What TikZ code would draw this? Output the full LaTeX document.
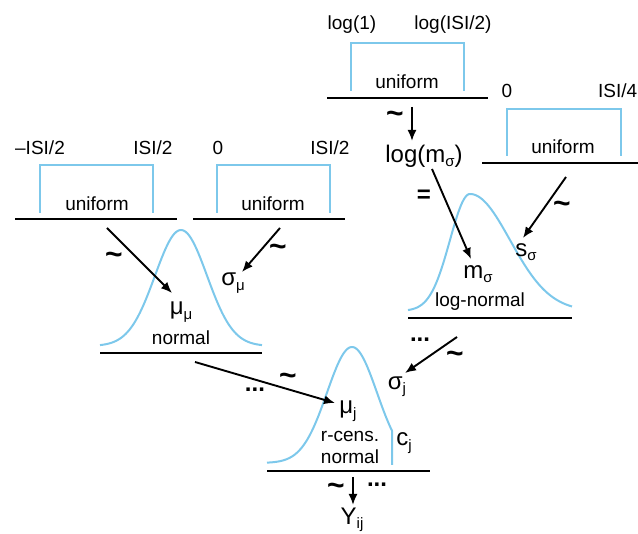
\documentclass[tikz,border=0pt]{standalone}
\usepackage{fontspec}
\setmainfont{Liberation Sans}
\usetikzlibrary{arrows.meta}
\definecolor{curveblue}{RGB}{125,200,235}
\newcommand\sbx[1]{\raisebox{-0.35ex}{\fontsize{15}{15}\selectfont #1}}
\begin{document}
\begin{tikzpicture}[x=1pt,y=-1pt,
  lbl/.style={font=\fontsize{19}{21}\selectfont, inner sep=0pt},
  big/.style={font=\fontsize{24}{26}\selectfont, inner sep=0pt},
  tld/.style={font=\fontsize{30}{30}\bfseries, inner sep=0pt},
  dist/.style={curveblue, line width=2pt},
  base/.style={black, line width=1.4pt},
  arr/.style={-{Latex[length=11pt,width=9pt]}, line width=1.9pt}]
\useasboundingbox (0,0) rectangle (638,534);

% ---- uniform 1
\draw[dist] (40,213) -- (40,165) -- (153,165) -- (153,213);
\draw[base] (15,219) -- (177,219);
\node[lbl] (u1lo) at (40,148) {–ISI/2};
\node[lbl] (u1hi) at (153,148) {ISI/2};
\node[lbl] (u1) at (97,204) {uniform};

% ---- uniform 2
\draw[dist] (217,213) -- (217,165) -- (330,165) -- (330,213);
\draw[base] (193,219) -- (345,219);
\node[lbl] (u2lo) at (218,148) {0};
\node[lbl] (u2hi) at (330,148) {ISI/2};
\node[lbl] (u2) at (273,204) {uniform};

% ---- uniform 3
\draw[dist] (351,91) -- (351,43) -- (464,43) -- (464,91);
\draw[base] (327,98) -- (488,98);
\node[lbl] (u3lo) at (352,25) {log(1)};
\node[lbl] (u3hi) at (453,25) {log(ISI/2)};
\node[lbl] (u3) at (407,82) {uniform};

% ---- uniform 4
\draw[dist] (507,156) -- (507,109) -- (621,109) -- (621,156);
\draw[base] (482,163) -- (640,163);
\node[lbl] (u4lo) at (507,91) {0};
\node[lbl, anchor=west] (u4hi) at (598,91) {ISI/4};
\node[lbl] (u4) at (563,147) {uniform};

% ---- normal 1
\draw[dist] plot[domain=100:262, samples=90] (\x, {346 - 116*exp(-((\x-181)^2)/1352)});
\draw[base] (100,353) -- (262,353);
\node[big] (mumu) at (181,312) {μ\sbx{μ}};
\node[lbl] (n1) at (181,338) {normal};
\node[big] (sigmu) at (233,283) {σ\sbx{μ}};

\coordinate (a1s) at (107,228); \coordinate (a1e) at (172,293);
\draw[arr] (a1s) -- (a1e);
\node[tld] (t1) at (114,258) {\textasciitilde};
\coordinate (a2s) at (280,228); \coordinate (a2e) at (242,272);
\draw[arr] (a2s) -- (a2e);
\node[tld] (t2) at (278,250) {\textasciitilde};

% ---- log-normal
\draw[dist] plot[domain=408:470, samples=50] (\x, {311 - 117*exp(-((\x-470)^2)/800)})
  -- plot[domain=470:572, samples=60] (\x, {311 - 117*exp(-((\x-470)^2)/3200)});
\draw[base] (408,318) -- (572,318);
\node[big] (logm) at (424,156) {log(m\sbx{σ})};
\node[big] (eq) at (424,196) {\bfseries =};
\node[big] (msig) at (478,274) {m\sbx{σ}};
\node[lbl] (ln) at (480,302) {log-normal};
\node[big] (ssig) at (526,252) {s\sbx{σ}};

\coordinate (a3s) at (412,107); \coordinate (a3e) at (412,141);
\draw[arr] (a3s) -- (a3e);
\node[tld] (t3) at (395,117) {\textasciitilde};
\coordinate (a4s) at (432,169); \coordinate (a4e) at (471,259);
\draw[arr] (a4s) -- (a4e);
\coordinate (a5s) at (566,177); \coordinate (a5e) at (523,238);
\draw[arr] (a5s) -- (a5e);
\node[tld] (t5) at (562,207) {\textasciitilde};

% ---- r-censored normal
\draw[dist] plot[domain=267:392, samples=90] (\x, {463 - 116*exp(-((\x-352)^2)/1250)}) -- (392,465);
\draw[base] (267,471) -- (430,471);
\node[big] (muj) at (348,411) {μ\sbx{j}};
\node[lbl] (rc) at (350,436) {r-cens.};
\node[lbl] (n2) at (350,457) {normal};
\node[big] (cj) at (404,443) {c\sbx{j}};
\node[big] (sigj) at (397,387) {σ\sbx{j}};

\node[big] (d1) at (255,390) {\bfseries ...};
\node[tld] (t6) at (288,379) {\textasciitilde};
\coordinate (a6s) at (195,362); \coordinate (a6e) at (335,403);
\draw[arr] (a6s) -- (a6e);

\node[big] (d2) at (420,340) {\bfseries ...};
\node[tld] (t7) at (455,357) {\textasciitilde};
\coordinate (a7s) at (457,337); \coordinate (a7e) at (405,373);
\draw[arr] (a7s) -- (a7e);

% ---- bottom
\coordinate (a8s) at (353,477); \coordinate (a8e) at (353,505);
\draw[arr] (a8s) -- (a8e);
\node[tld] (t8) at (336,489) {\textasciitilde};
\node[big] (d3) at (377,485) {\bfseries ...};
\node[big, anchor=south] (yij) at (352,532) {Y\sbx{ij}};
\end{tikzpicture}
\end{document}
